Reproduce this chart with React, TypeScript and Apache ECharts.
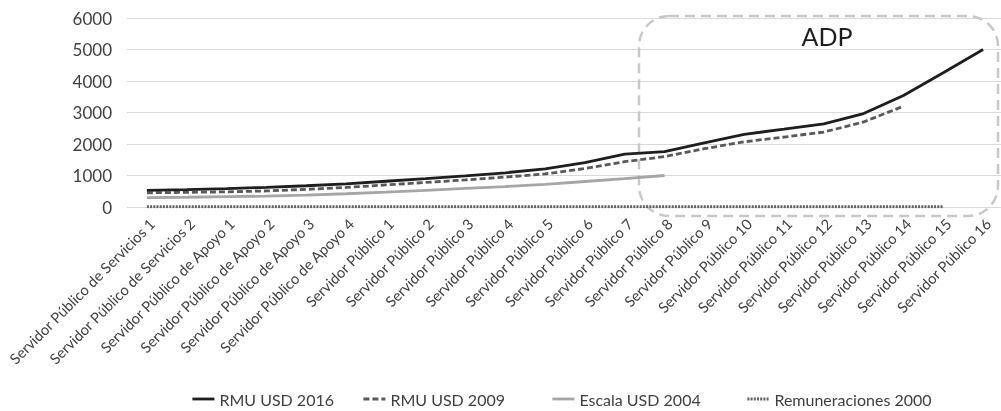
import React, { useEffect, useRef } from "react";
import * as echarts from "echarts";

const categories = [
  "Servidor Público de Servicios 1",
  "Servidor Público de Servicios 2",
  "Servidor Público de Apoyo 1",
  "Servidor Público de Apoyo 2",
  "Servidor Público de Apoyo 3",
  "Servidor Público de Apoyo 4",
  "Servidor Público 1",
  "Servidor Público 2",
  "Servidor Público 3",
  "Servidor Público 4",
  "Servidor Público 5",
  "Servidor Público 6",
  "Servidor Público 7",
  "Servidor Público 8",
  "Servidor Público 9",
  "Servidor Público 10",
  "Servidor Público 11",
  "Servidor Público 12",
  "Servidor Público 13",
  "Servidor Público 14",
  "Servidor Público 15",
  "Servidor Público 16",
];

const rmu2016 = [527, 553, 585, 622, 675, 733, 817, 901, 986, 1086, 1212, 1412, 1676, 1760, 2034, 2308, 2472, 2641, 2967, 3542, 4260, 5000];
const rmu2009 = [450, 465, 480, 510, 560, 620, 700, 780, 860, 950, 1050, 1220, 1440, 1600, 1850, 2070, 2220, 2380, 2700, 3200];
const escala2004 = [300, 310, 330, 345, 380, 420, 470, 530, 590, 650, 720, 810, 900, 1000];
const remun2000 = [4, 4, 4, 4, 4, 4, 4, 4, 4, 4, 4, 4, 4, 4, 4, 4, 4, 4, 4, 4, 4];

const yTicks = { min: 0, max: 6000, interval: 1000 };
const boxLabel = "ADP";
const seriesNames = ["RMU USD 2016", "RMU USD 2009", "Escala USD 2004", "Remuneraciones 2000"];

const FONT = "Lato";

const colors = ["#1e1e1e", "#595959", "#a6a6a6", "#5f5f5f"];
const dashes: any[] = ["solid", [6, 3], "solid", [2, 1.2]];
const legendLeft = [186, 357, 546, 741];

export default function App() {
  const ref = useRef<HTMLDivElement>(null);
  useEffect(() => {
    if (!ref.current) return;
    const chart = echarts.init(ref.current, undefined, { renderer: "svg" });
    const seriesData = [rmu2016, rmu2009, escala2004, remun2000];
    chart.setOption({
      animation: false,
      textStyle: { fontFamily: FONT },
      grid: { left: 127, right: -2, top: 18, bottom: 204, outerBoundsMode: "none", containLabel: false },
      xAxis: {
        type: "category",
        data: categories,
        boundaryGap: true,
        axisLine: { show: false },
        axisTick: { show: false },
        axisLabel: {
          interval: 0,
          rotate: 45,
          margin: 9,
          fontSize: 14.7,
          color: "#404040",
          fontFamily: FONT,
          verticalAlign: "top",
        },
      },
      yAxis: {
        type: "value",
        min: yTicks.min,
        max: yTicks.max,
        interval: yTicks.interval,
        axisLine: { show: false },
        axisTick: { show: false },
        axisLabel: {
          fontSize: 17,
          color: "#404040",
          margin: 15,
          fontFamily: FONT,
          formatter: (v: number) => String(v),
        },
        splitLine: { lineStyle: { color: "#d9d9d9", width: 1.2 } },
      },
      legend: seriesNames.map((name, i) => ({
        left: legendLeft[i],
        top: 386,
        itemWidth: 22,
        itemHeight: 10,
        textStyle: { fontSize: 16, color: "#404040", fontFamily: FONT },
        data: [
          {
            name,
            itemStyle: { opacity: 0 },
            lineStyle: { color: colors[i], width: 2.8, type: dashes[i] },
          },
        ],
      })),
      series: seriesNames.map((name, i) => ({
        name,
        type: "line",
        data: seriesData[i],
        symbol: "none",
        lineStyle: { color: colors[i], width: i === 3 ? 3 : 2.8, type: dashes[i] },
        itemStyle: { color: colors[i] },
        z: 5 - i,
      })),
      graphic: [
        {
          type: "rect",
          shape: { x: 639, y: 16, width: 359, height: 200, r: 30 },
          style: { fill: "none", stroke: "#c8c8c8", lineWidth: 2.5, lineDash: [10, 6] },
          z: 1,
        },
        {
          type: "text",
          x: 827,
          y: 36,
          style: {
            text: boxLabel,
            fontSize: 25,
            fontFamily: FONT,
            fill: "#1e1e1e",
            textAlign: "center",
            textVerticalAlign: "middle",
          },
          z: 10,
        },
      ],
    });
    return () => chart.dispose();
  }, []);
  return (
    <div
      ref={ref}
      style={{ position: "fixed", left: 0, top: 0, width: 1001, height: 411 }}
    />
  );
}
